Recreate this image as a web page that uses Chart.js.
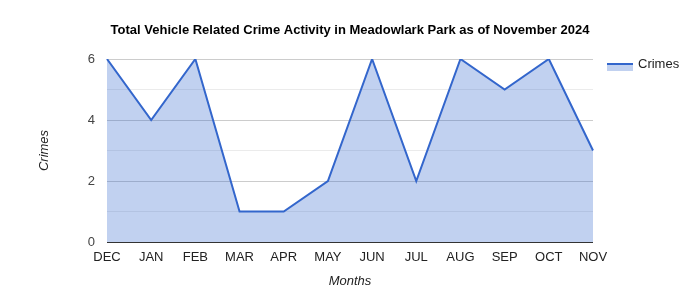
<!DOCTYPE html>
<html>
<head>
<meta charset="utf-8">
<script src="https://cdn.jsdelivr.net/npm/chart.js@4.4.0/dist/chart.umd.min.js"></script>
<style>
  html, body { margin: 0; padding: 0; background: #fff; }
  #wrap { width: 700px; height: 300px; }
</style>
</head>
<body>
<div id="wrap"><canvas id="chart" width="700" height="300"></canvas></div>
<script>
// data
var months = ['DEC', 'JAN', 'FEB', 'MAR', 'APR', 'MAY', 'JUN', 'JUL', 'AUG', 'SEP', 'OCT', 'NOV'];
var crimes = [6, 4, 6, 1, 1, 2, 6, 2, 6, 5, 6, 3];
var yTicks = [0, 2, 4, 6];

var chartTitle = 'Total Vehicle Related Crime Activity in Meadowlark Park as of November 2024';
var lineColor = '#3366cc';
var fillColor = 'rgba(51, 102, 204, 0.3)';
var fontFamily = 'Arial, "Liberation Sans", sans-serif';

// titulo e legenda desenhados a mão
var extras = {
    id: 'extras',
    afterDraw: function(chart) {
        var ctx = chart.ctx;
        var area = chart.chartArea;
        ctx.save();
        ctx.fillStyle = '#000';
        ctx.font = 'bold 13px ' + fontFamily;
        ctx.textAlign = 'center';
        ctx.textBaseline = 'middle';
        ctx.fillText(chartTitle, (area.left + area.right) / 2, 30);

        // legenda
        var lx = area.right + 14, ly = 64;
        ctx.fillStyle = fillColor;
        ctx.fillRect(lx, ly, 26, 7);
        ctx.strokeStyle = lineColor;
        ctx.lineWidth = 2;
        ctx.beginPath();
        ctx.moveTo(lx, ly);
        ctx.lineTo(lx + 26, ly);
        ctx.stroke();
        ctx.fillStyle = '#222';
        ctx.font = '13px ' + fontFamily;
        ctx.textAlign = 'left';
        ctx.fillText('Crimes', lx + 31, ly);
        ctx.restore();
    }
};

new Chart(document.getElementById('chart'), {
    type: 'line',
    data: {
        labels: months,
        datasets: [{
            label: 'Crimes',
            data: crimes,
            borderColor: lineColor,
            backgroundColor: fillColor,
            borderWidth: 2,
            fill: 'origin',
            tension: 0,
            pointRadius: 0
        }]
    },
    options: {
        responsive: false,
        animation: false,
        layout: { padding: { left: 0, right: 107, top: 59, bottom: 0 } },
        plugins: {
            legend: { display: false },
            title: { display: false },
            tooltip: { enabled: false }
        },
        scales: {
            x: {
                offset: false,
                grid: { display: false, drawTicks: false },
                border: { display: false },
                ticks: { color: '#222', font: { family: fontFamily, size: 13 }, padding: 8, maxRotation: 0, autoSkip: false },
                title: { display: true, text: 'Months', color: '#222', font: { family: fontFamily, size: 13, style: 'italic' }, padding: { top: 4, bottom: 11 } },
                afterFit: function(scale) { scale.height = 58; }
            },
            y: {
                min: 0,
                max: 6,
                ticks: {
                    stepSize: 1,
                    color: '#444',
                    font: { family: fontFamily, size: 13 },
                    padding: 12,
                    callback: function(v) { return yTicks.indexOf(v) >= 0 ? v : ''; }
                },
                grid: {
                    drawTicks: false,
                    lineWidth: 1,
                    color: function(c) {
                        if (c.tick.value === 0) return '#333';
                        return c.tick.value % 2 === 0 ? '#cccccc' : '#ebebeb';
                    }
                },
                border: { display: false },
                title: { display: true, text: 'Crimes', color: '#222', font: { family: fontFamily, size: 13, style: 'italic' }, padding: { top: 37, bottom: 0 } },
                afterFit: function(scale) { scale.width = 107; }
            }
        }
    },
    plugins: [extras]
});
</script>
</body>
</html>
